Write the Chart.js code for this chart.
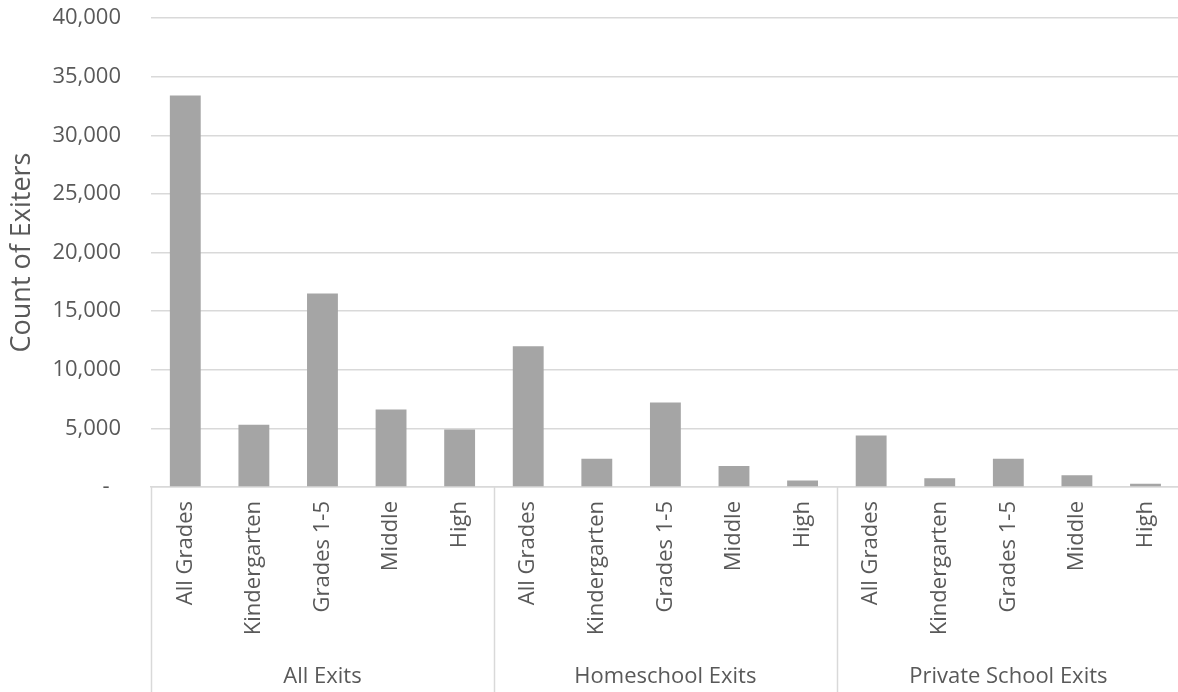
<!DOCTYPE html>
<html>
<head>
<meta charset="utf-8">
<title>Count of Exiters</title>
<script src="https://cdn.jsdelivr.net/npm/chart.js@4/dist/chart.umd.min.js"></script>
<style>
    html, body { margin: 0; padding: 0; background: #fff; overflow: hidden; }
    #wrap { width: 1178px; height: 692px; overflow: hidden; }
</style>
</head>
<body>
<div id="wrap"><canvas id="exitChart" width="1186" height="692"></canvas></div>
<script>
const groups = ['All Exits', 'Homeschool Exits', 'Private School Exits'];
const grades = ['All Grades', 'Kindergarten', 'Grades 1-5', 'Middle', 'High'];

const allExits = [33400, 5300, 16500, 6600, 4900];
const homeschoolExits = [12000, 2400, 7200, 1800, 550];
const privateExits = [4400, 750, 2400, 1000, 280];

const yTicks = [0, 5000, 10000, 15000, 20000, 25000, 30000, 35000, 40000];
const yTickLabels = ['-', '5,000', '10,000', '15,000', '20,000', '25,000', '30,000', '35,000', '40,000'];

const textColor = '#595959';
const lineColor = '#d9d9d9';
const fontFamily = "'Open Sans', 'Noto Sans', sans-serif";

// flatten groups x grades into one category axis
const labels = [];
groups.forEach(() => grades.forEach(g => labels.push(g)));
const values = [...allExits, ...homeschoolExits, ...privateExits];

// vertical separators between the groups, below the baseline
const groupSeparators = {
    id: 'groupSeparators',
    afterDraw(chart) {
        const x = chart.scales.x;
        const half = (x.getPixelForValue(1) - x.getPixelForValue(0)) / 2;
        const ctx = chart.ctx;
        ctx.save();
        ctx.strokeStyle = lineColor;
        ctx.lineWidth = 1.5;
        for (let g = 0; g <= groups.length; g++) {
            const idx = g * grades.length;
            const px = idx < labels.length ? x.getPixelForValue(idx) - half : x.getPixelForValue(idx - 1) + half;
            ctx.beginPath();
            ctx.moveTo(Math.round(px) + 0.5, chart.chartArea.bottom);
            ctx.lineTo(Math.round(px) + 0.5, chart.height);
            ctx.stroke();
        }
        ctx.restore();
    }
};

new Chart(document.getElementById('exitChart'), {
    type: 'bar',
    data: {
        labels: labels,
        datasets: [{
            data: values,
            backgroundColor: '#a5a5a5',
            borderWidth: 0,
            barPercentage: 0.45,
            categoryPercentage: 1
        }]
    },
    options: {
        responsive: false,
        animation: false,
        devicePixelRatio: 1,
        layout: { padding: { top: 18, right: 3, left: 0, bottom: 0 } },
        plugins: { legend: { display: false }, tooltip: { enabled: false } },
        scales: {
            y: {
                min: 0,
                max: 40000,
                afterFit: s => {
                    s.width = 151;
                    // tick padding is only meant to push labels left, not down from the top
                    s.paddingTop = 13;
                    s.paddingBottom = 13;
                },
                afterBuildTicks: s => { s.ticks = yTicks.map(v => ({ value: v })); },
                ticks: {
                    padding: 30,
                    color: textColor,
                    font: { family: fontFamily, size: 22 },
                    callback: (v, i) => yTickLabels[i] === '-' ? '-  ' : yTickLabels[i]
                },
                grid: { color: lineColor, lineWidth: 1.5, drawTicks: false },
                border: { display: false },
                title: {
                    display: true,
                    text: 'Count of Exiters',
                    color: textColor,
                    font: { family: fontFamily, size: 27 },
                    padding: { top: 6, bottom: 0 }
                }
            },
            x: {
                weight: 0,
                afterFit: s => { s.height = 150; },
                ticks: {
                    autoSkip: false,
                    minRotation: 90,
                    maxRotation: 90,
                    padding: 14,
                    color: textColor,
                    font: { family: fontFamily, size: 22 }
                },
                grid: { drawOnChartArea: false, drawTicks: false, color: lineColor },
                border: { display: true, color: lineColor, width: 1.5 }
            },
            xGroup: {
                type: 'category',
                labels: groups,
                position: 'bottom',
                weight: 1,
                offset: true,
                afterFit: s => { s.height = 55; },
                ticks: {
                    padding: 19,
                    color: textColor,
                    font: { family: fontFamily, size: 22 }
                },
                grid: { display: false },
                border: { display: false }
            }
        }
    },
    plugins: [groupSeparators]
});
</script>
</body>
</html>
